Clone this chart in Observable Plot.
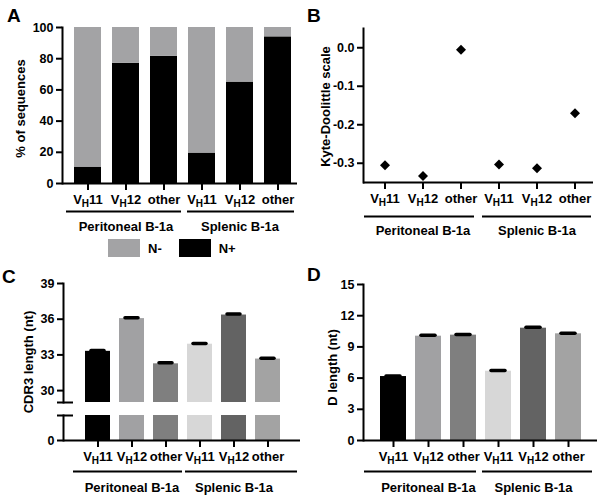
<!DOCTYPE html>
<html>
<head>
<meta charset="utf-8">
<script src="https://cdn.jsdelivr.net/npm/d3@7"></script>
<script src="https://cdn.jsdelivr.net/npm/@observablehq/plot@0.6"></script>
<style>
  body { margin: 0; background: #fff; }
  #fig { position: relative; width: 603px; height: 498px; overflow: hidden;
         font-family: "Liberation Sans", Arial, Helvetica, sans-serif; font-weight: bold; color: #000; }
  .panel { position: absolute; }
  .letter { position: absolute; font-size: 19px; line-height: 19px; font-weight: bold; }
  .legend { position: absolute; display: flex; align-items: center; font-size: 13px; }
</style>
</head>
<body>
<div id="fig"></div>
<script>
// ---------------- data ----------------
const groups = ["Peritoneal B-1a", "Splenic B-1a"];
const genes = ["VH11", "VH12", "other"];
// A: % of sequences with N additions (N+); N- is the remainder to 100
const nPlusPct = [10.5, 77, 81.5, 19.5, 65, 94];
const nStatus = ["N-", "N+"];
const nColors = ["#a3a3a5", "#000000"];
// B: Kyte-Doolittle hydrophobicity
const kyteDoolittle = [-0.305, -0.333, -0.005, -0.303, -0.313, -0.170];
// C: CDR3 length (nt), mean and SEM
const cdr3Mean = [33.3, 36.05, 32.25, 33.9, 36.35, 32.65];
const cdr3Sem = [0.08, 0.07, 0.08, 0.06, 0.08, 0.07];
// D: D length (nt), mean and SEM
const dMean = [6.15, 10.03, 10.13, 6.66, 10.8, 10.26];
const dSem = [0.06, 0.08, 0.07, 0.07, 0.08, 0.06];
const barColors = ["#000000", "#a1a1a3", "#7f7f7f", "#d7d7d7", "#636363", "#a3a3a3"];
// tick labels
const ticksA = [0, 20, 40, 60, 80, 100];
const ticksB = [0, -0.1, -0.2, -0.3];
const ticksC = [0, 30, 33, 36, 39];
const ticksD = [0, 3, 6, 9, 12, 15];
const cBreak = [0, 2, 29, 39]; // broken axis: lower stub 0–2, upper 29–39
const titleA = "% of sequences";
const titleB = "Kyte-Doolittle scale";
const titleC = "CDR3 length (nt)";
const titleD = "D length (nt)";
const panelLetters = ["A", "B", "C", "D"];

// ---------------- tables ----------------
const keys = groups.flatMap(g => genes.map(v => g + "|" + v));
const rows = keys.map((key, i) => ({
  key, nPlus: nPlusPct[i], kd: kyteDoolittle[i],
  cdr3: cdr3Mean[i], cdr3Sem: cdr3Sem[i], d: dMean[i], dSem: dSem[i]
}));
const stackRows = rows.flatMap(r => [
  {key: r.key, status: "N+", value: r.nPlus},
  {key: r.key, status: "N-", value: 100 - r.nPlus}
]);
const groupRows = groups.map((g, gi) => ({group: g, first: keys[gi * 3], mid: keys[gi * 3 + 1], last: keys[gi * 3 + 2]}));

const FONT = "'Liberation Sans', Arial, Helvetica, sans-serif";
const svgStyle = {fontFamily: FONT, fontWeight: "bold", fontSize: "13px", color: "#000", background: "transparent", overflow: "visible"};

function groupMarks(yBase, lineDy, labelDy, insets) {
  return [
    ...groupRows.map((g, gi) => Plot.ruleY([g], {x1: "first", x2: "last", y: () => yBase, dy: lineDy,
      insetLeft: insets[gi][0], insetRight: insets[gi][1], strokeWidth: 2})),
    Plot.text(groupRows, {x: "mid", y: () => yBase, dy: labelDy, text: "group", fontWeight: "bold"})
  ];
}
function yTitle(t, dx, dy) {
  return Plot.text([t], {frameAnchor: "left", textAnchor: "middle", rotate: -90, dx, dy, text: d => d, fontWeight: "bold"});
}
const xAxis = () => Plot.axisX({tickSize: 7, tickPadding: 4, strokeWidth: 2, label: null, tickFormat: k => k.split("|")[1]});
const yAxis = (ticks, fmt) => Plot.axisY({ticks, tickSize: 6, tickPadding: 3, strokeWidth: 2, label: null, fontSize: 12.5, tickFormat: fmt});

// ---------------- A ----------------
const plotA = Plot.plot({
  width: 300, height: 235, marginLeft: 62, marginRight: 3, marginTop: 27, marginBottom: 52,
  style: svgStyle,
  x: {type: "band", domain: keys, paddingInner: 0.28, paddingOuter: 0, insetLeft: 9, insetRight: 3},
  y: {domain: [0, 100]},
  color: {domain: nStatus, range: nColors},
  marks: [
    Plot.barY(stackRows, {x: "key", y: "value", fill: "status"}),
    Plot.frame({anchor: "left", strokeWidth: 2}),
    Plot.ruleY([0], {strokeWidth: 2}),
    yAxis(ticksA, d => String(d)),
    xAxis(),
    ...groupMarks(0, 28, 43, [[-8, -4], [-1, -3]]),
    yTitle(titleA, -42, 3)
  ]
});

// ---------------- B ----------------
const plotB = Plot.plot({
  width: 303, height: 240, marginLeft: 63, marginRight: 10, marginTop: 28, marginBottom: 58,
  style: svgStyle,
  x: {type: "band", domain: keys, paddingInner: 0.28, paddingOuter: 0, insetLeft: 6, insetRight: 3},
  y: {domain: [-0.35, 0.05]},
  marks: [
    Plot.dot(rows, {x: "key", y: "kd", symbol: "diamond2", r: 4.5, fill: "#000"}),
    Plot.frame({anchor: "left", strokeWidth: 2}),
    Plot.ruleY([-0.35], {strokeWidth: 2}),
    yAxis(ticksB, d => d.toFixed(1)),
    xAxis(),
    ...groupMarks(-0.35, 34, 48, [[-7, 0], [-3, -3]]),
    yTitle(titleB, -38, 1)
  ]
});

// ---------------- C ----------------
const cRange = [180, 155, 142, 23];
const yC = Plot.scale({y: {type: "linear", domain: cBreak, range: cRange}});
const frameWC = 302 - 63 - 2;
const plotC = Plot.plot({
  width: 302, height: 238, marginLeft: 63, marginRight: 2, marginTop: 23, marginBottom: 58,
  style: svgStyle,
  x: {type: "band", domain: keys, paddingInner: 0.257, paddingOuter: 0, insetLeft: 19, insetRight: 17},
  y: {type: "linear", domain: cBreak, range: cRange},
  color: {domain: keys, range: barColors},
  marks: [
    Plot.barY(rows, {x: "key", y1: () => cBreak[0], y2: () => cBreak[1], fill: "key"}),
    Plot.barY(rows, {x: "key", y1: () => cBreak[2], y2: "cdr3", fill: "key"}),
    Plot.ruleX(rows, {x: "key", y1: "cdr3", y2: d => d.cdr3 + d.cdr3Sem, strokeWidth: 2}),
    Plot.tickY(rows, {x: "key", y: d => d.cdr3 + d.cdr3Sem, strokeWidth: 3.5, inset: 6, strokeLinecap: "round"}),
    Plot.frame({anchor: "left", strokeWidth: 2, insetBottom: 180 - yC.apply(cBreak[2])}),
    Plot.frame({anchor: "left", strokeWidth: 2, insetTop: yC.apply(cBreak[1]) - 23}),
    Plot.ruleY([cBreak[1], cBreak[2]], {insetLeft: -6, insetRight: frameWC - 10, strokeWidth: 2}),
    Plot.ruleY([0], {strokeWidth: 2}),
    yAxis(ticksC, d => String(d)),
    xAxis(),
    ...groupMarks(0, 31, 47, [[-12, -4], [-2, -17]]),
    yTitle(titleC, -35, 0)
  ]
});

// ---------------- D ----------------
const plotD = Plot.plot({
  width: 303, height: 238, marginLeft: 63, marginRight: 6, marginTop: 24, marginBottom: 58,
  style: svgStyle,
  x: {type: "band", domain: keys, paddingInner: 0.25, paddingOuter: 0, insetLeft: 17, insetRight: 15},
  y: {domain: [0, 15]},
  color: {domain: keys, range: barColors},
  marks: [
    Plot.barY(rows, {x: "key", y: "d", fill: "key"}),
    Plot.ruleX(rows, {x: "key", y1: "d", y2: d => d.d + d.dSem, strokeWidth: 2}),
    Plot.tickY(rows, {x: "key", y: d => d.d + d.dSem, strokeWidth: 3.5, inset: 6, strokeLinecap: "round"}),
    Plot.frame({anchor: "left", strokeWidth: 2}),
    Plot.ruleY([0], {strokeWidth: 2}),
    yAxis(ticksD, d => String(d)),
    xAxis(),
    ...groupMarks(0, 31, 47, [[-16, 0], [-3, -11]]),
    yTitle(titleD, -31, 5)
  ]
});

// subscript H in "VH11"/"VH12"
function subscriptH(svg) {
  d3.select(svg).selectAll("text").each(function () {
    const m = /^VH(\d+)$/.exec(this.textContent);
    if (!m) return;
    const t = d3.select(this);
    t.text(null);
    t.append("tspan").text("V");
    t.append("tspan").attr("dy", 3).attr("font-size", "10px").text("H");
    t.append("tspan").attr("dy", -3).text(m[1]);
  });
}

const fig = document.getElementById("fig");
[[plotA, 0, 0], [plotB, 300, 0], [plotC, 0, 260], [plotD, 300, 260]].forEach(([p, x, y]) => {
  subscriptH(p);
  p.classList.add("panel");
  p.style.position = "absolute";
  p.style.left = x + "px";
  p.style.top = y + "px";
  fig.appendChild(p);
});

// legend for A (from its color scale)
const colorA = plotA.scale("color");
const legend = document.createElement("div");
legend.className = "legend";
legend.style.left = "108px";
legend.style.top = "239px";
colorA.domain.forEach((s, i) => {
  const sw = document.createElement("div");
  sw.style.cssText = `width:32px;height:18px;background:${colorA.range[i]};margin-right:8px;`;
  const lab = document.createElement("span");
  lab.textContent = s;
  lab.style.marginRight = "17px";
  legend.appendChild(sw);
  legend.appendChild(lab);
});
fig.appendChild(legend);

// panel letters
[[7, 6], [307, 6], [2, 267], [307, 265]].forEach(([x, y], i) => {
  const d = document.createElement("div");
  d.className = "letter";
  d.style.left = x + "px";
  d.style.top = y + "px";
  d.textContent = panelLetters[i];
  fig.appendChild(d);
});
</script>
</body>
</html>
